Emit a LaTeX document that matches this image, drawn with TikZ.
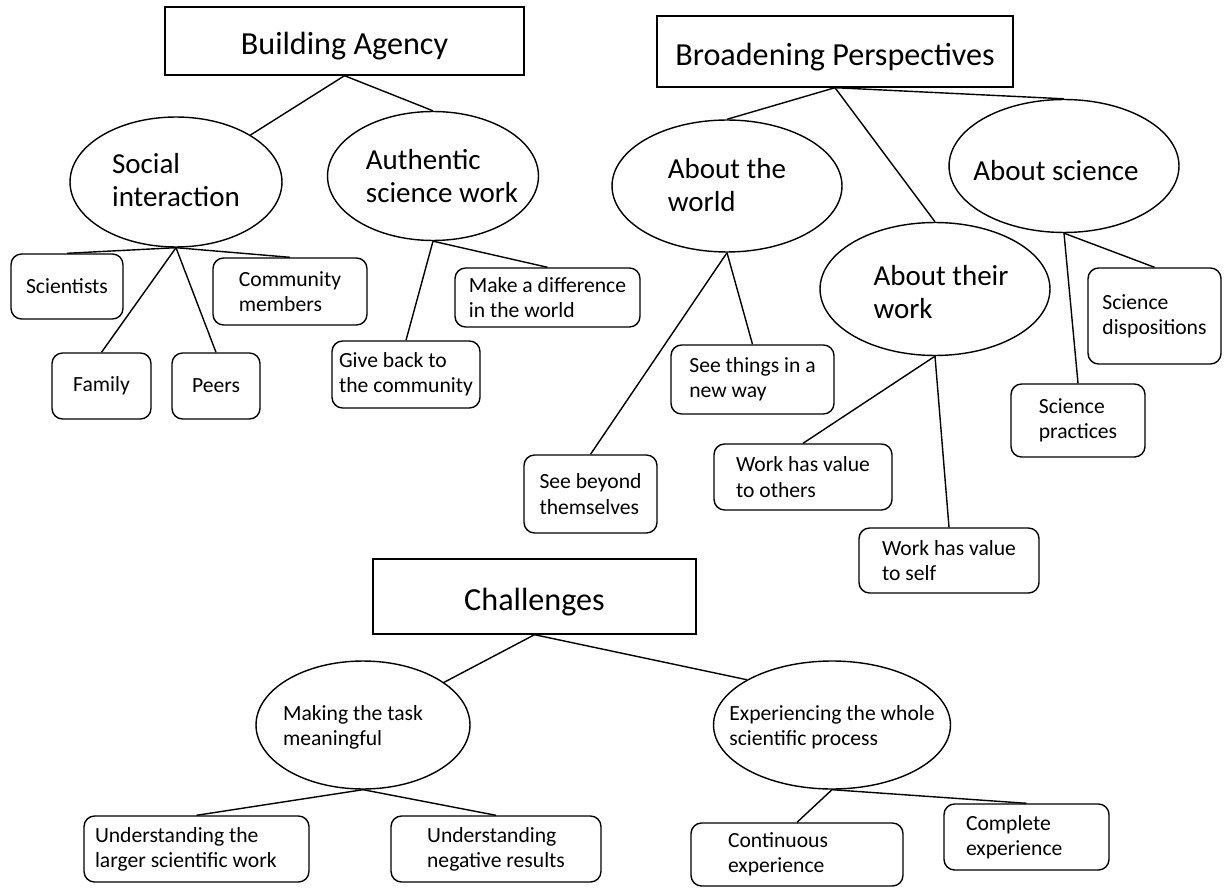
\documentclass[tikz,border=0pt]{standalone}
\usepackage{fontspec}
\setmainfont{Carlito}
\usetikzlibrary{shapes.geometric}

\begin{document}
\begin{tikzpicture}[x=0.02cm, y=-0.02cm, line width=0.8pt,
  head/.style={draw, rectangle, inner sep=0pt, text height=20pt, text depth=4.5pt, font=\fontsize{18.3}{21}\selectfont},
  oval/.style={draw, ellipse, inner sep=0pt},
  big/.style={align=left, inner sep=0pt, font=\fontsize{16.5}{19.3}\selectfont},
  small/.style={align=left, inner sep=0pt, font=\fontsize{12.3}{14.4}\selectfont},
  box/.style={draw, rounded corners=6pt, align=flush left, inner xsep=2pt, font=\fontsize{12.3}{14.4}\selectfont}]
\useasboundingbox (0,0) rectangle (1230,888);

%building agency
\node[head, minimum width=7.18cm, minimum height=1.36cm] (ba) at (344.5,41) {Building Agency};
\node[oval, minimum width=4.24cm, minimum height=2.6cm] (soc) at (176,182) {};
\node[big] (soc-t) at (176,180) {Social\\interaction};
\node[oval, minimum width=4.22cm, minimum height=2.58cm] (auth) at (433,176) {};
\node[big] (auth-t) at (442,176) {Authentic\\science work};
\node[box, minimum width=2.24cm, minimum height=1.3cm] (sc) at (67,286.5) {Scientists};
\node[box, minimum width=3.08cm, minimum height=1.34cm] (cm) at (290,291.5) {Community\\members};
\node[box, minimum width=1.98cm, minimum height=1.32cm] (fam) at (101.5,386) {Family};
\node[box, minimum width=1.76cm, minimum height=1.32cm] (peer) at (216,386) {Peers};
\node[box, minimum width=2.96cm, minimum height=1.34cm] (give) at (406,374.5) {Give back to\\the community};
\node[box, minimum width=3.7cm, minimum height=1.18cm] (diff) at (547.5,297.5) {Make a difference\\in the world};

\draw (ba.south) -- (soc);
\draw (ba.south) -- (auth.north);
\draw (soc.south) -- (sc.north);
\draw (soc.south) -- (cm.north);
\draw (soc.south) -- (fam.north);
\draw (soc.south) -- (peer.north);
\draw (auth.south) -- (give.north);
\draw (auth.south) -- (diff.north);

%broadening perspectives
\node[head, minimum width=7.12cm, minimum height=1.42cm] (bp) at (835,51.5) {Broadening Perspectives};
\node[oval, minimum width=4.6cm, minimum height=2.64cm] (world) at (727,186) {};
\node[big] (world-t) at (727,185) {About the\\world};
\node[oval, minimum width=4.6cm, minimum height=2.66cm] (work) at (935,289) {};
\node[big] (work-t) at (941,292) {About their\\work};
\node[oval, minimum width=4.6cm, minimum height=2.66cm] (sci) at (1064,166) {};
\node[big] (sci-t) at (1056,171) {About science};
\node[box, minimum width=2.66cm, minimum height=1.56cm] (beyond) at (590.5,494) {See beyond\\themselves};
\node[box, minimum width=3.26cm, minimum height=1.38cm] (things) at (752.5,379.5) {See things in a\\new way};
\node[box, minimum width=3.56cm, minimum height=1.32cm] (others) at (803,477) {Work has value\\to others};
\node[box, minimum width=3.6cm, minimum height=1.3cm] (self) at (949,560.5) {Work has value\\to self};
\node[box, minimum width=2.68cm, minimum height=1.46cm] (prac) at (1078,420.5) {Science\\practices};
\node[box, minimum width=2.66cm, minimum height=1.92cm] (disp) at (1154.5,316) {Science\\dispositions};

\draw (bp.south) -- (world.north);
\draw (bp.south) -- (work.north);
\draw (bp.south) -- (sci.north);
\draw (world.south) -- (beyond.north);
\draw (world.south) -- (things.north);
\draw (work.south) -- (others.north);
\draw (work.south) -- (self.north);
\draw (sci.south) -- (prac.north);
\draw (sci.south) -- (disp.north);

%challenges
\node[head, minimum width=6.46cm, minimum height=1.5cm] (ch) at (534.5,596.5) {Challenges};
\node[oval, minimum width=4.28cm, minimum height=2.56cm] (mk) at (363,725) {};
\node[small] (mk-t) at (353,727) {Making the task\\meaningful};
\node[oval, minimum width=4.74cm, minimum height=2.56cm] (ex) at (832,725) {};
\node[small] (ex-t) at (832,727) {Experiencing the whole\\scientific process};
\node[box, minimum width=4.5cm, minimum height=1.32cm, text width=4.06cm, inner xsep=0.22cm] (larger) at (196.5,849) {Understanding the\\larger scientific work};
\node[box, minimum width=4.2cm, minimum height=1.32cm] (neg) at (496,849) {Understanding\\negative results};
\node[box, minimum width=4.24cm, minimum height=1.26cm, text width=2.76cm, inner xsep=0.74cm] (cont) at (797,854.5) {Continuous\\experience};
\node[box, minimum width=3.3cm, minimum height=1.32cm, text width=2.42cm, inner xsep=0.44cm] (comp) at (1026.5,837) {Complete\\experience};

\draw (ch.south) -- (mk);
\draw (ch.south) -- (ex.152);
\draw (mk.south) -- (larger.north);
\draw (mk.south) -- (neg.north);
\draw (ex.south) -- (cont.north);
\draw (ex.south) -- (comp.north);
\end{tikzpicture}
\end{document}
